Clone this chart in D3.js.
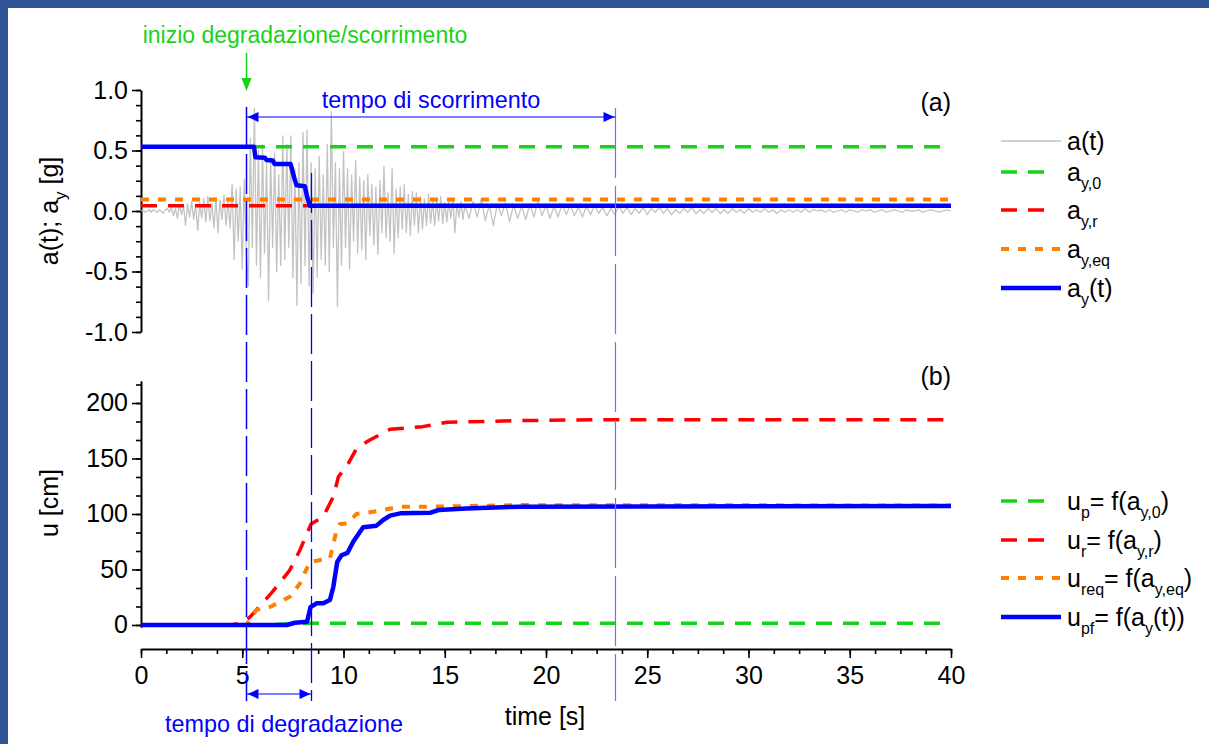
<!DOCTYPE html>
<html>
<head>
<meta charset="utf-8">
<script src="https://cdn.jsdelivr.net/npm/d3@7"></script>
<style>
  html, body { margin: 0; padding: 0; background: #fff; }
  svg { display: block; font-family: "Liberation Sans", Arial, sans-serif; }
  text { white-space: pre; }
</style>
</head>
<body>
<svg id="chart" width="1209" height="744"></svg>
<script>
// tick labels
const timeTicks = [0, 5, 10, 15, 20, 25, 30, 35, 40];
const accTicks = [-1.0, -0.5, 0.0, 0.5, 1.0];
const dispTicks = [0, 50, 100, 150, 200];

// a(t), 0.1 s steps from 0 to 16 s
const accEarly = [
  0.00, 0.01, -0.01, 0.00, 0.01, -0.01, 0.01, 0.00, -0.01, 0.01, 0.00, -0.02, 0.01, 0.02, -0.01,
  0.03, -0.04, 0.02, -0.06, 0.05, -0.03, 0.04, -0.12, 0.06, -0.05, 0.08, -0.07, 0.05, -0.16, 0.07,
  -0.06, 0.10, -0.09, 0.12, -0.08, 0.06, -0.14, 0.11, -0.18, 0.09, -0.07, 0.13, -0.12, 0.08,
  -0.14, 0.22, -0.40, 0.18, -0.25, 0.20, -0.48, 0.26, -0.35, -0.62, 0.60, -0.30, 0.85, -0.45,
  0.50, -0.55, 0.55, -0.35, 0.40, -0.74, 0.45, -0.30, 0.48, -0.50, 0.30, -0.45, 0.62,
  -0.40, 0.55, -0.30, 0.62, -0.55, 0.35, -0.78, 0.40, -0.60, 0.65, -0.45, 0.67, -0.62, 0.40,
  -0.68, 0.35, -0.55, 0.45, -0.40, 0.30, -0.45, 0.55, -0.50, 0.82, -0.30, 0.40, -0.79, 0.35, -0.45,
  0.49, -0.30, 0.35, -0.48, 0.30, -0.25, 0.42, -0.35, 0.28, -0.32, 0.25, -0.40, 0.30, -0.20, 0.22,
  -0.28, 0.20, -0.36, 0.25, -0.18, 0.37, -0.22, 0.15, -0.25, 0.35, -0.35, 0.18, -0.22, 0.20, -0.15,
  0.22, -0.18, 0.14, -0.20, 0.16, -0.12, 0.15, -0.18, 0.12, -0.15, 0.10, -0.12, 0.14, -0.10, 0.08,
  -0.12, 0.09, -0.08, 0.12, -0.10, 0.07, -0.09, 0.08, -0.06, 0.10, -0.18, 0.06, -0.05, 0.08, -0.07, 0.05
];
// a(t), 0.2 s steps from 16.2 to 40 s
const accLate = [
  -0.06, 0.08, -0.05, 0.10, -0.08, 0.05, -0.12, 0.06, -0.04, 0.07, -0.09, 0.05, -0.06, 0.04, -0.07, 0.06, -0.05, 0.08, -0.04, 0.05,
  -0.06, 0.04, -0.05, 0.06, -0.03, 0.05, -0.04, 0.03, -0.05, 0.04, -0.03, 0.05, -0.02, 0.03, -0.04, 0.02, -0.03, 0.04, -0.02, 0.03,
  -0.03, 0.02, -0.02, 0.03, -0.03, 0.02, -0.01, 0.03, -0.02, 0.02, -0.03, 0.01, -0.02, 0.02, -0.01, 0.03, -0.02, 0.01, -0.02, 0.02,
  -0.01, 0.02, -0.02, 0.01, -0.02, 0.02, -0.01, 0.01, -0.02, 0.02, -0.01, 0.01, -0.01, 0.02, -0.01, 0.01, -0.02, 0.01, -0.01, 0.01,
  -0.01, 0.01, -0.01, 0.02, -0.01, 0.01, 0.00, 0.01, -0.01, 0.01, -0.01, 0.00, 0.01, -0.01, 0.01, 0.00, -0.01, 0.01, 0.00, 0.01,
  -0.01, 0.00, 0.01, -0.01, 0.00, 0.01, 0.00, -0.01, 0.01, 0.00, 0.00, 0.01, -0.01, 0.00, 0.01, 0.00, -0.01, 0.00, 0.01, 0.00
];

// yield accelerations [g]
const ay0 = 0.53, ayR = 0.044, ayEq = 0.095;
// a_y(t) [time s, g]
const ayT = [[0, 0.531], [5.58, 0.531], [5.65, 0.444], [6.12, 0.44], [6.2, 0.421], [6.5, 0.418], [6.6, 0.388],
  [7.39, 0.388], [7.55, 0.284], [7.68, 0.212], [8.09, 0.205], [8.2, 0.12], [8.34, 0.044], [40, 0.044]];

// displacements [time s, cm]
const uP = [[0, 0], [5.5, 0], [7.5, 1], [8.4, 1.5], [40, 1.5]];
const uR = [[0, 0], [4.4, 0], [5.05, 2], [5.4, 7.5], [6.5, 30], [7.35, 49.5], [7.85, 67.6], [8.4, 91], [9.0, 97.6],
  [9.5, 115.6], [9.75, 133.6], [10.15, 142.6], [10.65, 159.2], [11.3, 166.7], [12.3, 176.3], [13.9, 178.7],
  [15.1, 182.6], [18.7, 184.1], [23, 185], [40, 185]];
const uEq = [[0, 0], [5.2, 0], [5.7, 13.5], [6.4, 16.5], [7.35, 25.5], [7.85, 37.5], [8.34, 56.8], [9.33, 60],
  [9.66, 85.6], [9.82, 91], [10.2, 91.6], [10.64, 100], [11.47, 102], [12.8, 106.6], [14.4, 106.6], [18.7, 108], [40, 107.6]];
const uPf = [[0, 0], [7.2, 0], [7.6, 2], [8.2, 3], [8.37, 16], [8.67, 19.5], [9.0, 19.5], [9.33, 22.5], [9.5, 34.5],
  [9.69, 56.8], [9.9, 62.8], [10.2, 65], [10.48, 75], [10.97, 88], [11.63, 89.5], [11.96, 94.6], [12.3, 98.5],
  [12.8, 100.6], [14.3, 101.2], [14.7, 103.6], [16.07, 105], [18.7, 106.6], [40, 107.3]];

// start of degradation, end of degradation, end of sliding [s]
const markTimes = [5.18, 8.38, 23.43];

const legendTop = ["a(t)", "a_{y,0}", "a_{y,r}", "a_{y,eq}", "a_{y}(t)"];
const legendBottom = ["u_{p}= f(a_{y,0})", "u_{r}= f(a_{y,r})", "u_{req}= f(a_{y,eq})", "u_{pf}= f(a_{y}(t))"];

// ---- styles
const GREEN = "#17d317", RED = "#ff0000", ORANGE = "#ff8000", BLUE = "#0000ff", GRAY = "#c3c3c3";
const sGray = {c: GRAY, w: 1.3, d: null, len: 60};
const sGreen = {c: GREEN, w: 3.5, d: "16,11", len: 47};
const sRed = {c: RED, w: 3.5, d: "16,11", len: 47};
const sOrange = {c: ORANGE, w: 4, d: "8,9", len: 60};
const sBlue = {c: BLUE, w: 4.5, d: null, len: 60};

const FS = 25;

const svg = d3.select("#chart");
svg.append("rect").attr("width", 1209).attr("height", 744).attr("fill", "#2f5597");
svg.append("rect").attr("x", 8).attr("y", 8).attr("width", 1201).attr("height", 736).attr("fill", "#fff");

const x = d3.scaleLinear().domain([0, 40]).range([141, 951]);
const yA = d3.scaleLinear().domain([-1, 1]).range([332, 90]);
const yU = d3.scaleLinear().domain([-2, 220]).range([627.2, 380.8]);

function styleAxis(g, fs) {
  g.attr("font-family", null).attr("font-size", fs);
  g.selectAll("text").attr("fill", "#000");
  g.select(".domain").attr("stroke-width", 2);
  g.selectAll(".tick line").attr("stroke-width", 1.6);
}

// text with _{sub} markup
function richText(sel, str, subSize, shift) {
  const parts = str.split(/_\{([^}]*)\}/);
  let down = false;
  parts.forEach(function(p, i) {
    if (p === "") return;
    const isSub = i % 2 === 1;
    const t = sel.append("tspan").text(p);
    if (isSub) {
      t.attr("font-size", subSize);
      if (!down) t.attr("dy", shift);
      down = true;
    } else {
      if (down) t.attr("dy", -shift);
      down = false;
    }
  });
}

function drawLine(data, st, xs, ys) {
  const p = svg.append("path")
    .datum(data)
    .attr("fill", "none")
    .attr("stroke", st.c)
    .attr("stroke-width", st.w)
    .attr("stroke-linejoin", "round")
    .attr("d", d3.line().x(d => xs(d[0])).y(d => ys(d[1])));
  if (st.d) p.attr("stroke-dasharray", st.d);
  return p;
}

// ---- axes
const gA = svg.append("g").attr("transform", "translate(141,0)")
  .call(d3.axisLeft(yA).tickValues(accTicks).tickFormat(d => d.toFixed(1)).tickSize(9).tickSizeOuter(0).tickPadding(4));
styleAxis(gA, FS);
const gAm = svg.append("g").attr("transform", "translate(141,0)")
  .call(d3.axisLeft(yA).tickValues(d3.range(-1, 1.0001, 0.125)).tickFormat("").tickSize(5));
gAm.select(".domain").remove();
gAm.selectAll(".tick line").attr("stroke-width", 1.6);

const gU = svg.append("g").attr("transform", "translate(141,0)")
  .call(d3.axisLeft(yU).tickValues(dispTicks).tickFormat(d => d).tickSize(9).tickSizeOuter(0).tickPadding(4));
styleAxis(gU, FS);
const gUm = svg.append("g").attr("transform", "translate(141,0)")
  .call(d3.axisLeft(yU).tickValues(d3.range(0, 220, 50 / 3)).tickFormat("").tickSize(5));
gUm.select(".domain").remove();
gUm.selectAll(".tick line").attr("stroke-width", 1.6);

const gX = svg.append("g").attr("transform", "translate(0,649)")
  .call(d3.axisBottom(x).tickValues(timeTicks).tickSize(9).tickSizeOuter(0).tickPadding(8));
styleAxis(gX, FS);
const gXm = svg.append("g").attr("transform", "translate(0,649)")
  .call(d3.axisBottom(x).tickValues(d3.range(0, 40.001, 1.25)).tickFormat("").tickSize(5));
gXm.select(".domain").remove();
gXm.selectAll(".tick line").attr("stroke-width", 1.6);

// axis titles
richText(svg.append("text").attr("transform", "translate(58,211) rotate(-90)")
  .attr("text-anchor", "middle").attr("font-size", FS), "a(t); a_{y} [g]", 17, 8);
richText(svg.append("text").attr("transform", "translate(58,503) rotate(-90)")
  .attr("text-anchor", "middle").attr("font-size", FS), "u [cm]", 17, 8);
svg.append("text").attr("x", 545).attr("y", 725).attr("text-anchor", "middle")
  .attr("font-size", FS).text("time [s]");

svg.append("text").attr("x", 951).attr("y", 111).attr("text-anchor", "end").attr("font-size", FS).text("(a)");
svg.append("text").attr("x", 951).attr("y", 385).attr("text-anchor", "end").attr("font-size", FS).text("(b)");

// ---- panel (a)
const acc = accEarly.map((v, i) => [i * 0.1, v]).concat(accLate.map((v, i) => [16.2 + i * 0.2, v]));
drawLine(acc, sGray, x, yA);
drawLine([[0, ay0], [40, ay0]], sGreen, x, yA);
drawLine([[0, ayR], [40, ayR]], sRed, x, yA);
drawLine([[0, ayEq], [40, ayEq]], sOrange, x, yA);
drawLine(ayT, sBlue, x, yA);

// ---- panel (b)
drawLine(uP, sGreen, x, yU);
drawLine(uR, sRed, x, yU);
drawLine(uEq, sOrange, x, yU);
drawLine(uPf, sBlue, x, yU);

// ---- legends
function legendEntry(lab, st, y) {
  const l = svg.append("line").attr("x1", 1001).attr("x2", 1001 + st.len).attr("y1", y).attr("y2", y)
    .attr("stroke", st.c).attr("stroke-width", st.w);
  if (st.d) l.attr("stroke-dasharray", st.d);
  richText(svg.append("text").attr("x", 1067).attr("y", y + 8.5).attr("font-size", FS), lab, 16, 8);
}
const legTopY = [141, 172, 210, 249, 288];
const legTopStyles = [sGray, sGreen, sRed, sOrange, sBlue];
legendTop.forEach((lab, i) => legendEntry(lab, legTopStyles[i], legTopY[i]));
const legBotY = [501, 540, 578, 617];
const legBotStyles = [sGreen, sRed, sOrange, sBlue];
legendBottom.forEach((lab, i) => legendEntry(lab, legBotStyles[i], legBotY[i]));

// ---- annotations
const mX = markTimes.map(t => Math.round(x(t)) + 0.5);
const markSpans = [[107, 701, 1.5, "40,7", BLUE], [173, 701, 1.3, "40,7", BLUE], [108, 701, 1.2, "70,8", "#6e6eff"]];
markSpans.forEach(function(s, i) {
  svg.append("line").attr("x1", mX[i]).attr("x2", mX[i]).attr("y1", s[0]).attr("y2", s[1])
    .attr("stroke", s[4]).attr("stroke-width", s[2]).attr("stroke-dasharray", s[3]);
});

function arrowHead(xt, yt, dir, col) {
  svg.append("path")
    .attr("d", `M${xt},${yt} L${xt - dir * 11},${yt - 5} L${xt - dir * 11},${yt + 5} Z`)
    .attr("fill", col);
}

// tempo di scorrimento
svg.append("line").attr("x1", mX[0]).attr("x2", mX[2]).attr("y1", 117).attr("y2", 117)
  .attr("stroke", BLUE).attr("stroke-width", 1.2);
arrowHead(mX[0] + 1, 117, -1, BLUE);
arrowHead(mX[2] - 1, 117, 1, BLUE);
svg.append("text").attr("x", 431).attr("y", 108).attr("text-anchor", "middle")
  .attr("font-size", 23.4).attr("fill", BLUE).text("tempo di scorrimento");

// tempo di degradazione
svg.append("line").attr("x1", mX[0]).attr("x2", mX[1]).attr("y1", 694).attr("y2", 694)
  .attr("stroke", BLUE).attr("stroke-width", 1.2);
arrowHead(mX[0] + 1, 694, -1, BLUE);
arrowHead(mX[1] - 1, 694, 1, BLUE);
svg.append("text").attr("x", 284).attr("y", 732).attr("text-anchor", "middle")
  .attr("font-size", 23.4).attr("fill", BLUE).text("tempo di degradazione");

// inizio degradazione/scorrimento
svg.append("text").attr("x", 305).attr("y", 43).attr("text-anchor", "middle")
  .attr("font-size", 23).attr("fill", GREEN).text("inizio degradazione/scorrimento");
svg.append("line").attr("x1", mX[0]).attr("x2", mX[0]).attr("y1", 53).attr("y2", 80)
  .attr("stroke", GREEN).attr("stroke-width", 1.5);
svg.append("path")
  .attr("d", `M${mX[0]},91 L${mX[0] - 5},78 L${mX[0] + 5},78 Z`)
  .attr("fill", GREEN);
</script>
</body>
</html>
